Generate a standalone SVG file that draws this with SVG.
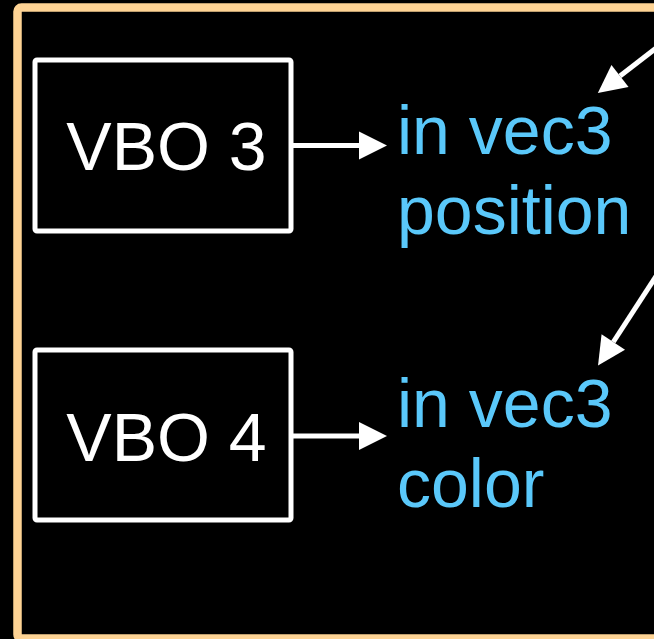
<svg xmlns="http://www.w3.org/2000/svg" width="654" height="639" viewBox="0 0 654 639">
<style>
.box{fill:none;stroke:#ffffff;stroke-width:5}
.lbl{font-family:"Liberation Sans",Arial,sans-serif;font-size:68px;fill:#ffffff}
.attr{font-family:"Liberation Sans",Arial,sans-serif;font-size:68px;fill:#5ac8fa}
.conn{stroke:#ffffff;stroke-width:5;fill:none}
</style>
<defs>
<marker id="ah" markerUnits="userSpaceOnUse" markerWidth="30" markerHeight="30" refX="0" refY="14" orient="auto" overflow="visible">
<path d="M0,0 L28,14 L0,28 Z" fill="#ffffff"/>
</marker>
</defs>
<rect width="654" height="639" fill="#000000"/>
<rect x="17.5" y="7.5" width="700" height="631" rx="4" fill="none" stroke="#fed394" stroke-width="8.5"/>
<g id="vbo3">
<rect class="box" x="35" y="60" width="256" height="171" rx="2"/>
<text class="lbl" x="166.5" y="170" text-anchor="middle">VBO 3</text>
</g>
<g id="vbo4">
<rect class="box" x="35" y="350" width="256" height="170" rx="2"/>
<text class="lbl" x="166.5" y="460.5" text-anchor="middle">VBO 4</text>
</g>
<g id="position">
<text class="attr" x="397" y="153.5">in vec3</text>
<text class="attr" x="397" y="234">position</text>
</g>
<g id="color">
<text class="attr" x="397" y="426.5">in vec3</text>
<text class="attr" x="397" y="506.5">color</text>
</g>
<g id="connectors">
<line class="conn" x1="291" y1="145.5" x2="359" y2="145.5" marker-end="url(#ah)"/>
<line class="conn" x1="291" y1="436" x2="359" y2="436" marker-end="url(#ah)"/>
<line class="conn" x1="675.3" y1="33.3" x2="620" y2="76" marker-end="url(#ah)"/>
<line class="conn" x1="662.4" y1="266.5" x2="613.3" y2="342" marker-end="url(#ah)"/>
</g>
</svg>
